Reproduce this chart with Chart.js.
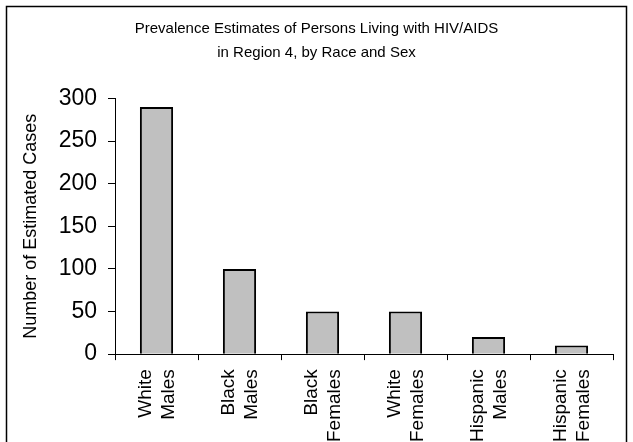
<!DOCTYPE html>
<html>
<head>
<meta charset="utf-8">
<script src="https://cdn.jsdelivr.net/npm/chart.js@4/dist/chart.umd.min.js"></script>
<style>
html,body{margin:0;padding:0;background:#fff;overflow:hidden;}
#wrap{width:633px;height:442px;position:relative;overflow:hidden;}
</style>
</head>
<body>
<div id="wrap"><canvas id="c" width="633" height="451"></canvas></div>
<script>
const categories = [["White","Males"],["Black","Males"],["Black","Females"],["White","Females"],["Hispanic","Males"],["Hispanic","Females"]];
const cases = [290, 100, 50, 50, 20, 10];
const yTicks = [0, 50, 100, 150, 200, 250, 300];
const titleLines = ["Prevalence Estimates of Persons Living with HIV/AIDS","in Region 4, by Race and Sex"];
const yTitle = "Number of Estimated Cases";

const FONT = "'Liberation Sans', Arial, sans-serif";

const frame = {
  id: 'frame',
  beforeDraw(chart) {
    const ctx = chart.ctx;
    ctx.save();
    ctx.fillStyle = '#fff';
    ctx.fillRect(0, 0, chart.width, chart.height);
    ctx.strokeStyle = '#000';
    ctx.lineWidth = 1.5;
    ctx.strokeRect(6.5, 6.5, 620, 500);
    ctx.restore();
  }
};

new Chart(document.getElementById('c'), {
  type: 'bar',
  data: {
    labels: categories,
    datasets: [{
      data: cases,
      backgroundColor: '#c0c0c0',
      borderColor: '#000',
      borderWidth: 2,
      barPercentage: 0.4,
      categoryPercentage: 1.0
    }]
  },
  options: {
    responsive: false,
    animation: false,
    devicePixelRatio: 1,
    layout: { padding: { left: 20, right: 20, top: 0, bottom: 0 } },
    plugins: {
      legend: { display: false },
      tooltip: { enabled: false },
      title: {
        display: true,
        text: titleLines,
        color: '#000',
        font: { family: FONT, size: 15, weight: 'normal', lineHeight: 1.65 },
        padding: { top: 16, bottom: 33 }
      }
    },
    scales: {
      x: {
        grid: { display: true, drawOnChartArea: false, drawTicks: true, tickLength: 6, color: '#000', offset: true },
        border: { display: true, color: '#000', width: 1 },
        ticks: {
          color: '#000',
          font: { family: FONT, size: 19, lineHeight: 1.2 },
          minRotation: 90, maxRotation: 90,
          padding: 9,
          labelOffset: -11,
          autoSkip: false
        }
      },
      y: {
        min: 0, max: 300,
        afterBuildTicks(scale) { scale.ticks = yTicks.map(v => ({ value: v })); },
        afterFit(scale) { scale.width = 95; },
        grid: { display: true, drawOnChartArea: false, drawTicks: true, tickLength: 7, color: '#000' },
        border: { display: true, color: '#000', width: 1 },
        ticks: {
          color: '#000',
          font: { family: FONT, size: 23 },
          padding: 11
        },
        title: {
          display: true,
          text: yTitle,
          color: '#000',
          font: { family: FONT, size: 18 },
          padding: { top: 0, bottom: 0 }
        }
      }
    }
  },
  plugins: [frame]
});
</script>
</body>
</html>
